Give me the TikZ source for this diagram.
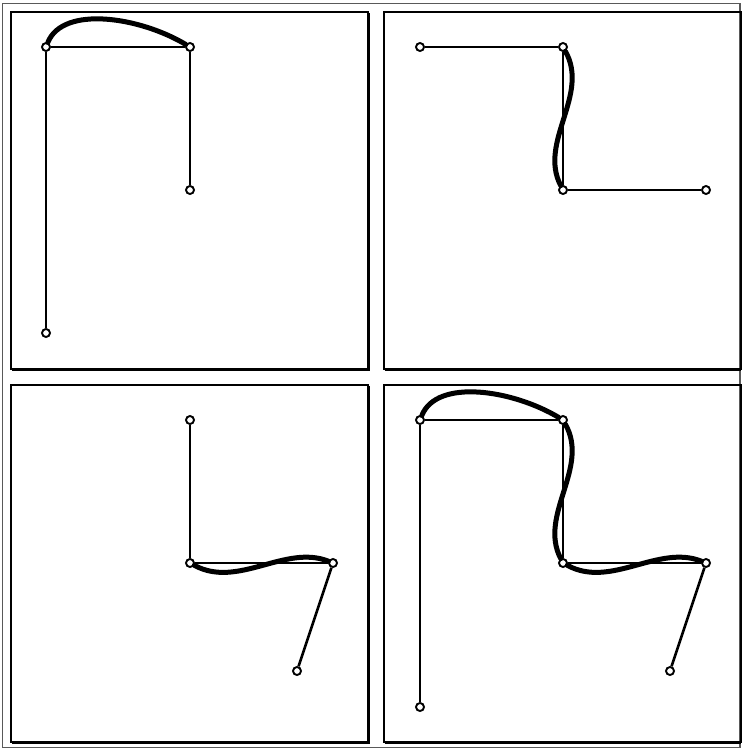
\documentclass[tikz,border=0pt]{standalone}
\usepackage{tikz}
\usetikzlibrary{positioning,calc}
\tikzset{
  frame/.style={draw=black!65,line width=1.1pt},
  panel/.style={draw=black,line width=2.2pt},
  panelshade/.style={draw=black,line width=1.4pt},
  joint/.style={circle,draw=black,fill=white,line width=1.9pt,minimum size=8pt,inner sep=0pt},
  link/.style={black,line width=2.6pt},
  flexcurve/.style={black,line width=5pt,line cap=round},
}
\begin{document}
\begin{tikzpicture}[x=1pt,y=-1pt]
    \useasboundingbox (0,0) rectangle (742,750);
    \draw[frame] (2.5,3.5) rectangle (740,747.5);

    % the four panels
    \draw[panel] (11,12) rectangle (368,369);
    \draw[panelshade] (369.5,13) -- (369.5,370.5) -- (12,370.5);
    \draw[panel] (384,12) rectangle (741,369);
    \draw[panelshade] (384.5,370.5) -- (741,370.5);
    \draw[panel] (11,385) rectangle (368,742);
    \draw[panelshade] (369.5,386) -- (369.5,743.5) -- (12,743.5);
    \draw[panel] (384,385) rectangle (741,742);
    \draw[panelshade] (384.5,743.5) -- (741,743.5);

    % top left: arc over the upper link
    \node[joint] (d1) at (46,333) {};
    \node[joint] (a1) at (46,47) {};
    \node[joint] (b1) at (190,47) {};
    \node[joint] (c1) at (190,190) {};
    \draw[link] (d1)--(a1);
    \draw[link] (a1)--(b1);
    \draw[link] (b1)--(c1);
    \draw[flexcurve] (a1) .. controls +(17,-42) and +(-50,-30) .. (b1);

    % top right: s-curve on the vertical link
    \node[joint] (a2) at (420,47) {};
    \node[joint] (b2) at (563,47) {};
    \node[joint] (c2) at (563,190) {};
    \node[joint] (e2) at (706,190) {};
    \draw[link] (a2)--(b2);
    \draw[link] (b2)--(c2);
    \draw[link] (c2)--(e2);
    \draw[flexcurve] (b2) .. controls +(27,48) and +(-25,-48) .. (c2);

    % bottom left: s-curve on the horizontal link
    \node[joint] (b3) at (190,420) {};
    \node[joint] (c3) at (190,563) {};
    \node[joint] (e3) at (333,563) {};
    \node[joint] (f3) at (297,671) {};
    \draw[link] (b3)--(c3);
    \draw[link] (c3)--(e3);
    \draw[link] (e3)--(f3);
    \draw[flexcurve] (c3) .. controls +(48,26) and +(-48,-19) .. (e3);

    % bottom right: the whole chain
    \node[joint] (d4) at (420,707) {};
    \node[joint] (a4) at (420,420) {};
    \node[joint] (b4) at (563,420) {};
    \node[joint] (c4) at (563,563) {};
    \node[joint] (e4) at (706,563) {};
    \node[joint] (f4) at (670,671) {};
    \draw[link] (d4)--(a4);
    \draw[link] (a4)--(b4);
    \draw[link] (b4)--(c4);
    \draw[link] (c4)--(e4);
    \draw[link] (e4)--(f4);
    \draw[flexcurve] (a4) .. controls +(17,-42) and +(-50,-30) .. (b4);
    \draw[flexcurve] (b4) .. controls +(27,48) and +(-25,-48) .. (c4);
    \draw[flexcurve] (c4) .. controls +(48,26) and +(-48,-19) .. (e4);
  \end{tikzpicture}
\end{document}
